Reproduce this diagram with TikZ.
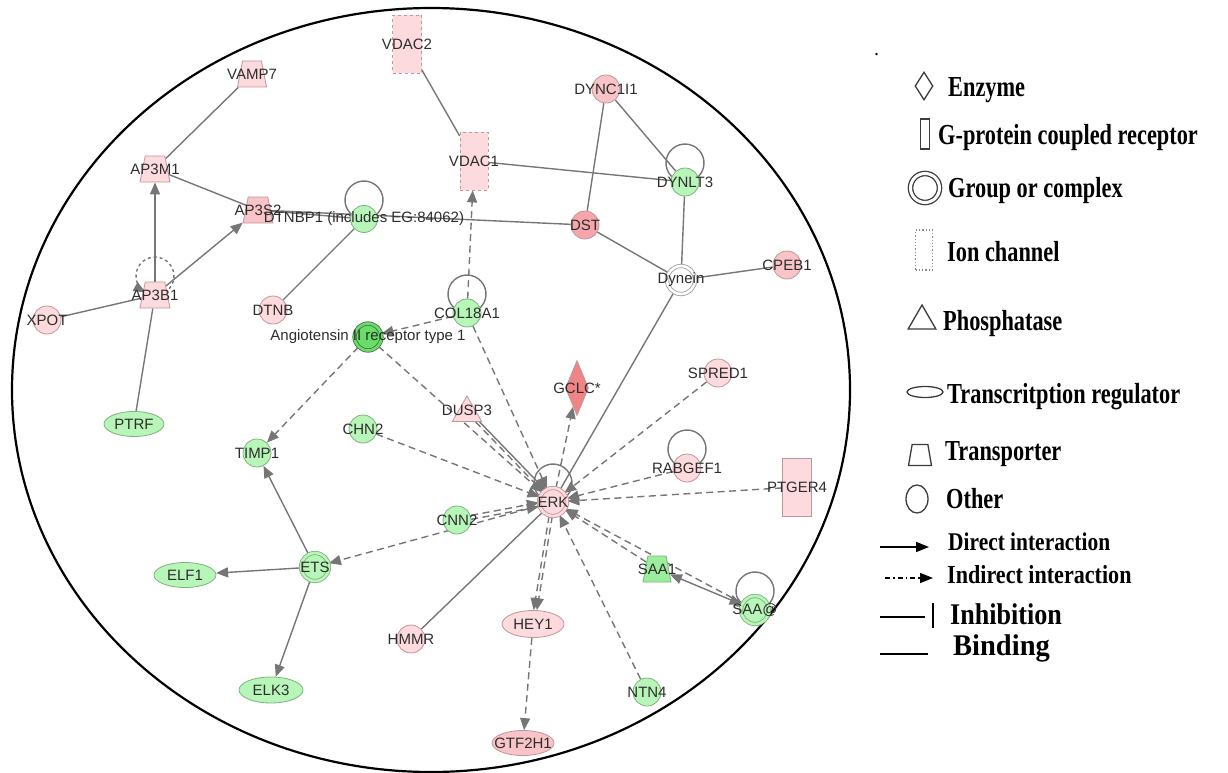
\documentclass[tikz,border=0pt]{standalone}
\usepackage{fontspec}
\setmainfont{Liberation Serif}
\setsansfont{Liberation Sans}
\usetikzlibrary{shapes.geometric,arrows.meta,backgrounds}
\definecolor{pinkfill}{RGB}{252,218,221}
\definecolor{pinkmid}{RGB}{249,196,199}
\definecolor{pinkdark}{RGB}{246,166,170}
\definecolor{redfill}{RGB}{241,132,132}
\definecolor{pinkline}{RGB}{190,150,155}
\definecolor{greenfill}{RGB}{184,245,184}
\definecolor{greenmid}{RGB}{155,238,155}
\definecolor{greendark}{RGB}{104,222,104}
\definecolor{greenline}{RGB}{128,178,128}
\definecolor{linkgray}{RGB}{118,118,118}
\definecolor{genetext}{RGB}{45,45,45}
\definecolor{legline}{RGB}{60,60,60}
\newcommand{\genefont}{\sffamily\fontsize{15}{15}\selectfont}
\newcommand{\legfont}{\rmfamily\bfseries\fontsize{29}{29}\selectfont}
\newcommand{\legscale}[2][0.77]{\scalebox{#1}[1]{#2}}
% boucle sur un noeud
\newcommand{\selfloop}[2][]{\draw[bind,#1] ([xshift=9.5pt,yshift=2.5pt]#2.center) arc[start angle=-60,end angle=240,radius=19pt];}

\begin{document}
\begin{tikzpicture}[x=1pt, y=-1pt, >={Triangle[length=12pt,width=10pt]},
    gene/.style={draw=pinkline, fill=pinkfill, line width=0.8pt, inner sep=0pt},
    up/.style={gene},
    down/.style={gene, draw=greenline, fill=greenfill},
    other/.style={circle, minimum size=28pt},
    complex/.style={circle, minimum size=28pt, double distance=2.6pt},
    transporter/.style={trapezium, trapezium left angle=75, trapezium right angle=75, trapezium stretches=true, inner sep=1pt, minimum width=30pt, minimum height=26pt},
    ionchannel/.style={rectangle, dashed, minimum width=29pt, minimum height=58pt},
    gpcr/.style={rectangle, minimum width=29pt, minimum height=58pt},
    enzyme/.style={diamond, minimum width=23pt, minimum height=55pt},
    phosphatase/.style={regular polygon, regular polygon sides=3, minimum size=34pt},
    transreg/.style={ellipse, minimum width=60pt, minimum height=25pt},
    lbl/.style={font=\genefont, text=genetext, inner sep=0pt},
    bind/.style={draw=linkgray, line width=1.4pt},
    act/.style={bind, ->},
    ind/.style={act, dash pattern=on 7pt off 4.5pt},
    legshape/.style={draw=legline, line width=1.3pt, fill=white, inner sep=0pt},
    legtext/.style={anchor=base west, inner sep=0pt, font=\legfont},
    legarrow/.style={draw=black, line width=1.6pt, -{Triangle[length=13pt,width=10pt]}}]

    \useasboundingbox (0,0) rectangle (1228,773);

    % grand cercle
    \draw[line width=2.2pt] (431,390) ellipse [x radius=419pt, y radius=382pt];

    % genes du haut
    \node[up, ionchannel, label={[lbl]center:VDAC2}] (vdac2) at (407,44) {};
    \node[up, ionchannel, minimum width=28pt, label={[lbl]center:VDAC1}] (vdac1) at (474,161) {};
    \node[up, transporter, minimum width=29pt, label={[lbl]center:VAMP7}] (vamp7) at (252,74) {};
    \node[up, transporter, label={[lbl]center:AP3M1}] (ap3m1) at (155,169) {};
    \node[up, transporter, fill=pinkmid, label={[lbl]center:AP3S2}] (ap3s2) at (258,210) {};
    \node[up, transporter, label={[lbl]center:AP3B1}] (ap3b1) at (155,295) {};
    \node[up, other, label={[lbl]center:XPOT}] (xpot) at (47,320) {};
    \node[up, other, label={[lbl]center:DTNB}] (dtnb) at (273,310) {};
    \node[down, other, minimum size=27pt, label={[lbl]center:DTNBP1 (includes EG:84062)}] (dtnbp1) at (364,219) {};
    \node[down, other, label={[lbl]center:COL18A1}] (col18a1) at (467,313) {};
    \node[down, complex, minimum size=27pt, draw=greenline!60!black, fill=greendark, double=greendark, label={[lbl]center:Angiotensin II receptor type 1}] (angio) at (368,337) {};
    \node[up, other, fill=pinkmid, label={[lbl]center:DYNC1I1}] (dync1i1) at (606,89) {};
    \node[down, other, label={[lbl]center:DYNLT3}] (dynlt3) at (685,182) {};
    \node[up, other, fill=pinkdark, label={[lbl]center:DST}] (dst) at (585,225) {};
    \node[gene, complex, draw=linkgray!70, fill=white, double=white, label={[lbl]center:Dynein}] (dynein) at (681,280) {};
    \node[up, other, fill=pinkmid, label={[lbl]center:CPEB1}] (cpeb1) at (787,265) {};

    % genes du milieu
    \node[up, enzyme, fill=redfill, label={[lbl]center:GCLC*}] (gclc) at (577,388) {};
    \node[up, other, label={[lbl]center:SPRED1}] (spred1) at (718,373) {};
    \node[up, phosphatase, label={[lbl, yshift=3pt]center:DUSP3}] (dusp3) at (467,413) {};
    \node[up, other, label={[lbl]center:RABGEF1}] (rabgef1) at (687,468) {};
    \node[up, gpcr, label={[lbl]center:PTGER4}] (ptger4) at (797,487) {};
    \node[up, complex, double=pinkfill, label={[lbl]center:ERK}] (erk) at (553,502) {};
    \node[down, other, label={[lbl]center:CNN2}] (cnn2) at (457,520) {};
    \node[down, other, label={[lbl]center:CHN2}] (chn2) at (363,429) {};
    \node[down, other, label={[lbl]center:TIMP1}] (timp1) at (257,453) {};
    \node[down, transreg, label={[lbl]center:PTRF}] (ptrf) at (134,424) {};

    % genes du bas
    \node[down, complex, double=greenfill, label={[lbl]center:ETS}] (ets) at (315,567) {};
    \node[down, transreg, minimum width=62pt, label={[lbl]center:ELF1}] (elf1) at (185,575) {};
    \node[down, transreg, minimum width=64pt, minimum height=26pt, label={[lbl]center:ELK3}] (elk3) at (271,690) {};
    \node[up, other, label={[lbl]center:HMMR}] (hmmr) at (411,639) {};
    \node[up, transreg, minimum width=62pt, minimum height=27pt, label={[lbl]center:HEY1}] (hey1) at (533,624) {};
    \node[up, transreg, minimum width=62pt, fill=pinkmid, label={[lbl]center:GTF2H1}] (gtf2h1) at (523,743) {};
    \node[down, other, label={[lbl]center:NTN4}] (ntn4) at (647,692) {};
    \node[down, transporter, fill=greenmid, minimum width=28pt, label={[lbl]center:SAA1}] (saa1) at (657,569) {};
    \node[down, complex, double=greenfill, label={[lbl]center:SAA@}] (saac) at (755,610) {};

    % liens
    \begin{scope}[on background layer]
        \draw[bind] (vamp7) -- (ap3m1);
        \draw[bind] (ap3m1) -- (ap3s2);
        \draw[act] (ap3b1) -- (ap3m1);
        \draw[act] (ap3b1) -- (ap3s2);
        \draw[bind] (xpot) -- (ap3b1);
        \draw[bind] (ptrf) -- (ap3b1);
        \draw[bind] (ap3s2) -- (dtnbp1);
        \draw[bind] (ap3s2) -- (dst);
        \draw[bind] (dtnbp1) -- (dtnb);
        \draw[bind] (vdac2) -- (vdac1);
        \draw[bind] (vdac1) -- (dynlt3);
        \draw[bind] (dync1i1) -- (dst);
        \draw[bind] (dync1i1) -- (dynlt3);
        \draw[bind] (dynlt3) -- (dynein);
        \draw[bind] (dst) -- (dynein);
        \draw[bind] (dynein) -- (cpeb1);
        \draw[bind] (dynein) -- (erk);
        \draw[ind] (col18a1) -- (vdac1);
        \draw[ind] (col18a1) -- (angio);
        \draw[ind] (col18a1) -- (erk);
        \draw[ind] (angio) -- (timp1);
        \draw[ind] (angio) -- (erk);
        \draw[ind] (dusp3) -- (erk);
        \draw[act, transform canvas={xshift=4pt}] (dusp3) -- (erk);
        \draw[ind] (erk) -- (gclc);
        \draw[ind] (spred1) -- (erk);
        \draw[ind] (rabgef1) -- (erk);
        \draw[ind] (ptger4) -- (erk);
        \draw[ind] (chn2) -- (erk);
        \draw[ind, transform canvas={yshift=2pt}] (cnn2) -- (erk);
        \draw[ind, transform canvas={yshift=-2pt}] (cnn2) -- (erk);
        \draw[ind] (erk) -- (ets);
        \draw[act] (ets) -- (timp1);
        \draw[act] (ets) -- (elf1);
        \draw[act] (ets) -- (elk3);
        \draw[bind] (hmmr) -- (erk);
        \draw[ind, transform canvas={xshift=-1.6pt}] (erk) -- (hey1);
        \draw[ind, transform canvas={xshift=1.6pt}] (erk) -- (hey1);
        \draw[ind] (hey1) -- (gtf2h1);
        \draw[ind] (ntn4) -- (erk);
        \draw[ind] (saa1) -- (erk);
        \draw[ind] (saac) -- (erk);
        \draw[bind, <->] (saa1) -- (saac);

        % boucles
        \selfloop[dashed, ->]{ap3b1}
        \selfloop{dtnbp1}
        \selfloop{col18a1}
        \selfloop{dynlt3}
        \selfloop{rabgef1}
        \selfloop{erk}
        \selfloop[-{Triangle[open,length=11pt,width=9pt]}]{saac}
    \end{scope}

    % legende
    \node[legtext, font=\rmfamily\fontsize{20}{20}\selectfont] (dot) at (874,56) {.};
    \node[legshape, diamond, minimum width=18pt, minimum height=28pt] (kenzyme) at (924,86) {};
    \node[legtext] (tenzyme) at (948,97) {\legscale{Enzyme}};
    \node[legshape, rectangle, minimum width=9pt, minimum height=30pt] (kgpcr) at (925,134) {};
    \node[legtext] (tgpcr) at (938,144) {\legscale{G-protein coupled receptor}};
    \node[legshape, circle, minimum size=29pt, double=white, double distance=3pt] (kcomplex) at (925,188) {};
    \node[legtext] (tcomplex) at (948,197) {\legscale{Group or complex}};
    \node[legshape, rectangle, dotted, draw=legline!60, minimum width=17pt, minimum height=40pt] (kion) at (924,250) {};
    \node[legtext] (tion) at (947,261) {\legscale{Ion channel}};
    \node[legshape, regular polygon, regular polygon sides=3, minimum size=32pt] (kphos) at (922,321) {};
    \node[legtext] (tphos) at (943,330) {\legscale{Phosphatase}};
    \node[legshape, ellipse, minimum width=36pt, minimum height=11pt] (ktrans) at (925,392) {};
    \node[legtext] (ttrans) at (947,403) {\legscale{Transcritption regulator}};
    \node[legshape, trapezium, trapezium left angle=77, trapezium right angle=77, trapezium stretches=true, inner sep=1pt, minimum width=23pt, minimum height=21pt] (kport) at (920,455) {};
    \node[legtext] (tport) at (945,460) {\legscale{Transporter}};
    \node[legshape, ellipse, minimum width=22pt, minimum height=28pt] (kother) at (917,499) {};
    \node[legtext] (tother) at (946,508) {\legscale{Other}};

    % fleches de la legende
    \coordinate (dirA) at (880,547);
    \coordinate (dirB) at (929,547);
    \draw[legarrow] (dirA) -- (dirB);
    \node[legtext, font=\rmfamily\bfseries\fontsize{25.5}{25.5}\selectfont] (tdir) at (948,550) {\legscale[0.84]{Direct interaction}};
    \coordinate (indA) at (885,578);
    \coordinate (indB) at (933,578);
    \draw[legarrow, dash pattern=on 5pt off 3pt on 1.5pt off 3pt] (indA) -- (indB);
    \node[legtext, font=\rmfamily\bfseries\fontsize{26}{26}\selectfont] (tind) at (947,583) {\legscale[0.85]{Indirect interaction}};
    \coordinate (inhA) at (880,617);
    \coordinate (inhB) at (925,617);
    \coordinate (barA) at (933,603);
    \coordinate (barB) at (933,628);
    \draw[line width=1.6pt] (inhA) -- (inhB);
    \draw[line width=2pt] (barA) -- (barB);
    \node[legtext, font=\rmfamily\bfseries\fontsize{30}{30}\selectfont] (tinh) at (950,624) {\legscale[0.87]{Inhibition}};
    \coordinate (bindA) at (880,654);
    \coordinate (bindB) at (928,654);
    \draw[line width=1.6pt] (bindA) -- (bindB);
    \node[legtext, font=\rmfamily\bfseries\fontsize{30}{30}\selectfont] (tbind) at (953,655) {\legscale[0.95]{Binding}};
\end{tikzpicture}
\end{document}
